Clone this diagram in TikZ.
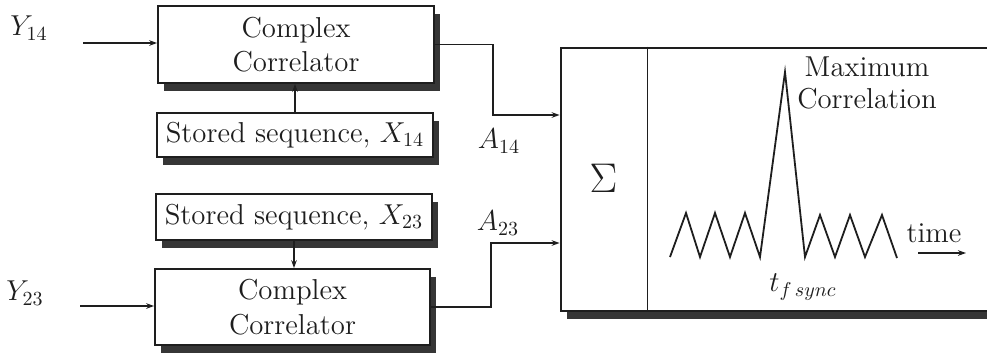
\documentclass[tikz,border=0pt]{standalone}
\usepackage{fontspec}
\usetikzlibrary{arrows.meta,shadows}

\definecolor{ink}{HTML}{1E1E1E}
\definecolor{shade}{HTML}{363636}

\tikzset{
  every node/.style={font=\fontsize{14.4}{17.28}\selectfont, text=ink},
  wire/.style={draw=ink, line width=0.9pt},
  arr/.style={wire, -{Stealth[length=4pt,width=2.8pt]}},
  block/.style={draw=ink, line width=0.9pt, fill=white, rectangle,
    inner sep=0pt, align=center,
    drop shadow={shadow xshift=2.8pt, shadow yshift=-3.8pt,
                 fill=shade, opacity=1}},
  lbl/.style={inner sep=0pt}
}

\begin{document}
\begin{tikzpicture}[x=0.5pt,y=-0.5pt]
\path[use as bounding box] (0,0) rectangle (987,355);
\clip (0,0) rectangle (987,355);

% correlator blocks and stored sequences
\node[block, minimum width=138pt, minimum height=38.5pt] (corrA) at (296,44.5)
  {Complex\\Correlator};
\node[block, minimum width=138pt, minimum height=22pt] (storA) at (295,135)
  {Stored sequence, $X_{14}$};
\node[block, minimum width=138pt, minimum height=23pt] (storB) at (294,217)
  {Stored sequence, $X_{23}$};
\node[block, minimum width=137.5pt, minimum height=38pt] (corrB) at (292.5,307)
  {Complex\\Correlator};

% summing and output block (runs off the right edge)
\node[block, anchor=north west, minimum width=220pt, minimum height=131.5pt]
  (plot) at (560,47) {};
\node[rectangle, inner sep=0pt, minimum width=43.5pt, minimum height=131.5pt]
  (sum) at (603.5,178.5) {\fontsize{20.74}{24}\selectfont$\Sigma$};
\draw[wire] (sum.north east) -- (sum.south east);

% inputs
\node[lbl] (y14) at (29,28) {$Y_{14}$};
\node[lbl] (y23) at (25,293) {$Y_{23}$};
\coordinate (in14) at (83,43);
\coordinate (in23) at (80,306);
\draw[arr] (in14) -- (in14 -| corrA.west);
\draw[arr] (in23) -- (in23 -| corrB.west);

% stored sequences into correlators
\draw[arr] (storA.north) -- (storA.north |- corrA.south);
\draw[arr] (storB.south) -- (storB.south |- corrB.north);

% correlator outputs into the sum
\coordinate (j14) at (493,115);
\coordinate (j23) at (491,243);
\draw[arr] (corrA.east) -| (j14) -- (j14 -| sum.west);
\draw[arr] (corrB.east) -| (j23) -- (j23 -| sum.west);
\node[lbl] (a14) at (499,141) {$A_{14}$};
\node[lbl] (a23) at (498,223) {$A_{23}$};

% correlation output trace
\draw[wire, line join=miter]
  (670,257) -- (686,213) -- (700,257) -- (715,213) -- (730,257)
  -- (745,213) -- (760,257) -- (785,72) -- (805,257) -- (820,215)
  -- (835,257) -- (850,215) -- (865,257) -- (882,215) -- (897,258);
\node[lbl, align=center] (maxc) at (867,83) {Maximum\\[-1.5pt]Correlation};
\node[lbl] (time) at (934,233) {time};
\coordinate (t0) at (918,253);
\coordinate (t1) at (966,253);
\draw[arr] (t0) -- (t1);
\node[lbl] (tsync) at (803,287) {$t_{f\,sync}$};
\end{tikzpicture}
\end{document}
